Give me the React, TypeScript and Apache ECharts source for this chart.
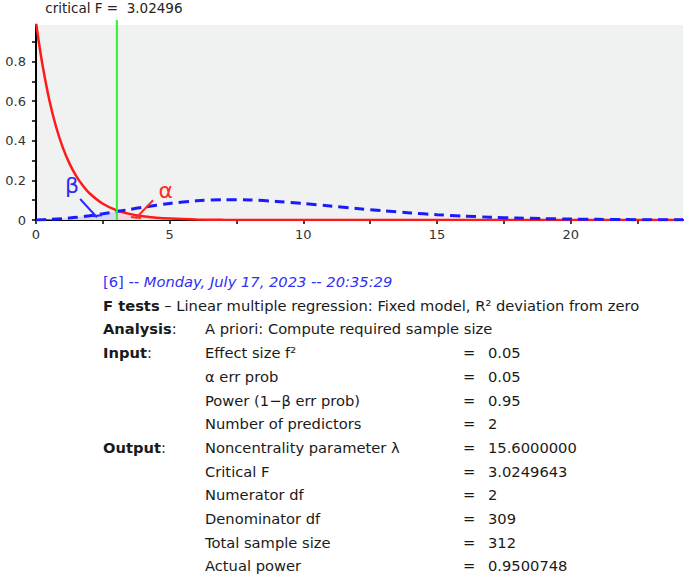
import React, { useEffect, useRef } from "react";
import * as echarts from "echarts";

const CRITICAL_F = 3.02496;
const X_MAX = 24.2;
const Y_MAX = 0.985;

const xTickValues = [0, 2.5, 5, 7.5, 10, 12.5, 15, 17.5, 20, 22.5];
const xLabelValues = [0, 5, 10, 15, 20];
const yTickValues = [0, 0.1, 0.2, 0.3, 0.4, 0.5, 0.6, 0.7, 0.8, 0.9];
const yLabelValues = [0, 0.2, 0.4, 0.6, 0.8];

// central F(2, 309) density (H0)
const centralX = [0, 0.1, 0.25, 0.5, 0.75, 1, 1.25, 1.5, 1.75, 2, 2.5, 3.02496, 3.5, 4, 4.5, 5, 6, 7, 8, 10, 12, 16, 24.2];
const centralY = [1.0, 0.904, 0.778, 0.605, 0.471, 0.367, 0.286, 0.223, 0.174, 0.135, 0.082, 0.049, 0.031, 0.019, 0.0115, 0.0071, 0.0027, 0.001, 0.0004, 0.00005, 0.00001, 0, 0];

// noncentral F(2, 309, λ = 15.6) density (H1)
const noncentralX = [0, 0.5, 1, 1.5, 2, 2.5, 3.02496, 3.5, 4, 5, 6, 7, 8, 9, 10, 11, 12, 13, 14, 15, 16, 17, 18, 19, 20, 21, 22, 23, 24.2];
const noncentralY = [0.0004, 0.0027, 0.007, 0.0133, 0.0215, 0.0315, 0.0427, 0.0533, 0.0643, 0.0836, 0.0967, 0.1024, 0.1011, 0.094, 0.0834, 0.0709, 0.0581, 0.0462, 0.0357, 0.0269, 0.0198, 0.0142, 0.01, 0.0069, 0.0047, 0.0032, 0.0021, 0.0014, 0.0009];

// annotation anchors (data units)
const betaLabelAt = [1.35, 0.176];
const betaPointer = [[1.65, 0.106], [2.28, 0.014]];
const alphaLabelAt = [4.85, 0.148];
const alphaPointer = [[4.38, 0.1], [3.74, 0.01]];

const headerIndex = "[6]";
const headerDate = " -- Monday, July 17, 2023 -- 20:35:29";
const testFamily = "F tests";
const testName = " – Linear multiple regression: Fixed model, R² deviation from zero";
const analysisLabel = "Analysis:";
const analysisText = "A priori: Compute required sample size";
const sectionLabels = ["Input:", "", "", "", "Output:", "", "", "", "", ""];
const paramNames = [
  "Effect size f²",
  "α err prob",
  "Power (1−β err prob)",
  "Number of predictors",
  "Noncentrality parameter λ",
  "Critical F",
  "Numerator df",
  "Denominator df",
  "Total sample size",
  "Actual power",
];
const paramValues = ["0.05", "0.05", "0.95", "2", "15.6000000", "3.0249643", "2", "309", "312", "0.9500748"];

const FONT = "DejaVu Sans";
const PANEL_SIZE = 14.7;

function pairs(xs: number[], ys: number[]) {
  return xs.map((x, i) => [x, ys[i]]);
}

export default function App() {
  const ref = useRef<HTMLDivElement>(null);
  useEffect(() => {
    if (!ref.current) return;
    const chart = echarts.init(ref.current, null, { renderer: "svg" });
    const central = pairs(centralX, centralY);
    const noncentral = pairs(noncentralX, noncentralY);
    const betaArea = noncentral.filter((d) => d[0] <= CRITICAL_F);
    const alphaArea = central.filter((d) => d[0] >= CRITICAL_F);

    chart.setOption({
      animation: false,
      grid: {
        left: 36,
        top: 25,
        right: 2,
        bottom: 356,
        show: true,
        backgroundColor: "#f0f1f1",
        borderWidth: 0,
      },
      xAxis: {
        type: "value",
        min: 0,
        max: X_MAX,
        axisLine: { show: true, onZero: false, lineStyle: { color: "#000", width: 2 } },
        axisTick: { show: true, length: 4, customValues: xTickValues, lineStyle: { color: "#000", width: 1.5 } },
        axisLabel: {
          customValues: xLabelValues,
          formatter: (v: number) => String(v),
          fontSize: 13,
          fontFamily: FONT,
          color: "#333",
          margin: 8,
        },
        splitLine: { show: false },
      },
      yAxis: {
        type: "value",
        min: 0,
        max: Y_MAX,
        axisLine: { show: true, onZero: false, lineStyle: { color: "#000", width: 2 } },
        axisTick: { show: true, length: 4, customValues: yTickValues, lineStyle: { color: "#000", width: 1.5 } },
        axisLabel: {
          customValues: yLabelValues,
          formatter: (v: number) => String(Number(v.toFixed(1))),
          fontSize: 13,
          fontFamily: FONT,
          color: "#333",
          margin: 10,
        },
        splitLine: { show: false },
      },
      series: [
        {
          type: "line",
          data: betaArea,
          showSymbol: false,
          smooth: 0.3,
          lineStyle: { width: 0 },
          areaStyle: { color: "#d5d6f2", opacity: 1 },
          silent: true,
          z: 1,
        },
        {
          type: "line",
          data: alphaArea,
          showSymbol: false,
          smooth: 0.3,
          lineStyle: { width: 0 },
          areaStyle: { color: "#f2d6d8", opacity: 1 },
          silent: true,
          z: 1,
        },
        {
          type: "line",
          name: "H0",
          data: central,
          showSymbol: false,
          smooth: 0.3,
          lineStyle: { color: "#ff1a1a", width: 2.5 },
          z: 3,
        },
        {
          type: "line",
          name: "H1",
          data: noncentral,
          showSymbol: false,
          smooth: 0.3,
          lineStyle: { color: "#1a1aff", width: 3, type: [10, 6] },
          z: 4,
        },
      ],
    });

    const px = (pt: number[]) => chart.convertToPixel({ gridIndex: 0 }, pt) as number[];
    const critBottom = px([CRITICAL_F, 0]);
    const critTop = px([CRITICAL_F, Y_MAX]);
    const bL = px(betaLabelAt);
    const b0 = px(betaPointer[0]);
    const b1 = px(betaPointer[1]);
    const aL = px(alphaLabelAt);
    const a0 = px(alphaPointer[0]);
    const a1 = px(alphaPointer[1]);

    const textColor = "#1a1a1a";
    const lineH = 23.7;
    const y0 = 281.5;
    const colLabel = 103;
    const colName = 205;
    const colEq = 463;
    const colVal = 488;
    const tfont = `${PANEL_SIZE}px "${FONT}"`;

    const textEl = (x: number, y: number, text: string, extra: any = {}) => ({
      type: "text",
      silent: true,
      style: {
        x,
        y,
        text,
        font: tfont,
        fill: textColor,
        textVerticalAlign: "middle",
        ...extra,
      },
    });

    const panel: any[] = [];
    panel.push(
      textEl(colLabel, y0, `{n|${headerIndex}}{i|${headerDate}}`, {
        rich: {
          n: { fontFamily: FONT, fontSize: PANEL_SIZE, fill: "#3030f0" },
          i: { fontFamily: FONT, fontSize: PANEL_SIZE, fontStyle: "italic", fill: "#3030f0" },
        },
      })
    );
    panel.push(
      textEl(colLabel, y0 + lineH, `{b|${testFamily}}{n|${testName}}`, {
        rich: {
          b: { fontFamily: FONT, fontSize: PANEL_SIZE, fontWeight: "bold", fill: textColor },
          n: { fontFamily: FONT, fontSize: PANEL_SIZE, fill: textColor },
        },
      })
    );
    const boldLabel = (y: number, label: string) => {
      const word = label.replace(":", "");
      return textEl(colLabel, y, `{b|${word}}{n|:}`, {
        rich: {
          b: { fontFamily: FONT, fontSize: PANEL_SIZE, fontWeight: "bold", fill: textColor },
          n: { fontFamily: FONT, fontSize: PANEL_SIZE, fill: textColor },
        },
      });
    };
    panel.push(boldLabel(y0 + 2 * lineH, analysisLabel));
    panel.push(textEl(colName, y0 + 2 * lineH, analysisText));
    paramNames.forEach((name, i) => {
      const y = y0 + (3 + i) * lineH;
      if (sectionLabels[i]) panel.push(boldLabel(y, sectionLabels[i]));
      panel.push(textEl(colName, y, name));
      panel.push(textEl(colEq, y, "="));
      panel.push(textEl(colVal, y, paramValues[i]));
    });

    chart.setOption({
      graphic: [
        {
          type: "line",
          silent: true,
          z: 10,
          shape: { x1: critBottom[0], y1: critTop[1] - 5, x2: critBottom[0], y2: critBottom[1] },
          style: { stroke: "#33ee33", lineWidth: 2 },
        },
        textEl(critBottom[0] - 3, 8, "critical F =  3.02496", { textAlign: "center", fill: "#222", font: `13.5px "${FONT}"` }),
        textEl(bL[0], bL[1], "β", { textAlign: "center", fill: "#2a2aff", font: `22px "${FONT}"` }),
        textEl(aL[0], aL[1], "α", { textAlign: "center", fill: "#ff2a2a", font: `22px "${FONT}"` }),
        {
          type: "line",
          silent: true,
          z: 10,
          shape: { x1: b0[0], y1: b0[1], x2: b1[0], y2: b1[1] },
          style: { stroke: "#2a2aff", lineWidth: 2 },
        },
        {
          type: "line",
          silent: true,
          z: 10,
          shape: { x1: b1[0] - 5, y1: b1[1] - 1, x2: b1[0] + 5, y2: b1[1] - 2 },
          style: { stroke: "#2a2aff", lineWidth: 2 },
        },
        {
          type: "line",
          silent: true,
          z: 10,
          shape: { x1: a0[0], y1: a0[1], x2: a1[0], y2: a1[1] },
          style: { stroke: "#ff2a2a", lineWidth: 2 },
        },
        {
          type: "line",
          silent: true,
          z: 10,
          shape: { x1: a1[0] - 5, y1: a1[1] - 1, x2: a1[0] + 5, y2: a1[1] },
          style: { stroke: "#ff2a2a", lineWidth: 2 },
        },
        ...panel,
      ],
    });

    return () => chart.dispose();
  }, []);

  return (
    <div
      ref={ref}
      style={{ position: "absolute", left: 0, top: 0, width: 685, height: 576, background: "#fff" }}
    />
  );
}
